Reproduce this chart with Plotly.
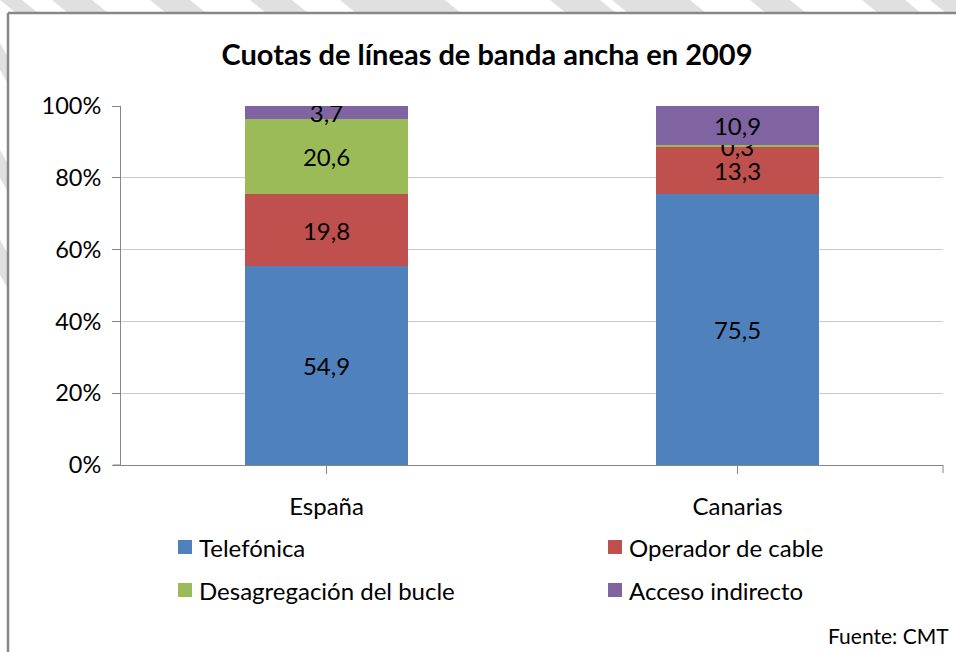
import plotly.graph_objects as go

categories = ["España", "Canarias"]
series_names = ["Telefónica", "Operador de cable", "Desagregación del bucle", "Acceso indirecto"]
telefonica = [54.9, 75.5]
operador_cable = [19.8, 13.3]
desagregacion = [20.6, 0.3]
acceso_indirecto = [3.7, 10.9]
series_values = [telefonica, operador_cable, desagregacion, acceso_indirecto]
colors = ["#4F81BD", "#C0504D", "#9BBB59", "#8064A2"]
y_tick_vals = [0, 20, 40, 60, 80, 100]
y_tick_text = ["0%", "20%", "40%", "60%", "80%", "100%"]

W, H = 956, 652
ML, MR, MT, MB = 121, 13, 106, 187
PW, PH = W - ML - MR, H - MT - MB


def px(x):
    return (x - ML) / PW


def py(y):
    return (H - MB - y) / PH


FONT = "Lato"

fig = go.Figure()
for name, vals, col in zip(series_names, series_values, colors):
    fig.add_trace(go.Bar(
        x=categories, y=vals, name=name,
        marker=dict(color=col, line=dict(width=0)),
        text=[f"{v:.1f}".replace(".", ",") for v in vals],
        textposition="inside", insidetextanchor="middle",
        constraintext="none", textangle=0,
        textfont=dict(family=FONT, size=24, color="#000000"),
        showlegend=False, hoverinfo="skip",
    ))

shapes = []
# decorative diagonal stripes outside the frame
top_stripes = [(0, 22), (52, 92), (150, 190), (250, 292), (340, 445), (550, 600), (612, 690),
               (750, 790), (862, 905), (930, 970)]
for x0, x1 in top_stripes:
    path = (f"M {px(x0)} {py(0)} L {px(x1)} {py(0)} L {px(x1 + 16)} {py(13)} "
            f"L {px(x0 + 16)} {py(13)} Z")
    shapes.append(dict(type="path", path=path, xref="paper", yref="paper",
                       fillcolor="#E0E0E0", line=dict(width=0), layer="below"))
left_stripes = [(43, 70), (150, 178), (240, 275)]
for y0, y1 in left_stripes:
    path = (f"M {px(0)} {py(y0)} L {px(0)} {py(y1)} L {px(8)} {py(y1 + 14)} "
            f"L {px(8)} {py(y0 + 14)} Z")
    shapes.append(dict(type="path", path=path, xref="paper", yref="paper",
                       fillcolor="#E0E0E0", line=dict(width=0), layer="below"))
# frame
shapes.append(dict(type="line", xref="paper", yref="paper", x0=px(8), x1=px(960),
                   y0=py(13), y1=py(13), line=dict(color="#878787", width=2.5)))
shapes.append(dict(type="line", xref="paper", yref="paper", x0=px(8), x1=px(8),
                   y0=py(13), y1=py(660), line=dict(color="#878787", width=2.5)))
# x axis extension to the left and right end tick
shapes.append(dict(type="line", xref="paper", yref="paper", x0=px(113), x1=0,
                   y0=0, y1=0, line=dict(color="#868686", width=1)))
shapes.append(dict(type="line", xref="paper", yref="paper", x0=1, x1=1,
                   y0=0, y1=py(473), line=dict(color="#868686", width=1)))

# legend (manual)
legend_pos = [(178, 547), (608, 547), (178, 590), (608, 590)]
annotations = []
for (lx, ly), name, col in zip(legend_pos, series_names, colors):
    shapes.append(dict(type="rect", xref="paper", yref="paper",
                       x0=px(lx), x1=px(lx + 14), y0=py(ly - 7), y1=py(ly + 7),
                       fillcolor=col, line=dict(width=0)))
    annotations.append(dict(text=name, xref="paper", yref="paper", x=px(lx + 19), y=py(ly),
                            xanchor="left", yanchor="middle", showarrow=False,
                            font=dict(family=FONT, size=24, color="#000000")))

annotations.append(dict(text="Fuente: CMT", xref="paper", yref="paper", x=px(951), y=py(635),
                        xanchor="right", yanchor="middle", showarrow=False,
                        font=dict(family=FONT, size=21, color="#000000")))

fig.update_layout(
    width=W, height=H,
    margin=dict(l=ML, r=MR, t=MT, b=MB),
    paper_bgcolor="white", plot_bgcolor="white",
    barmode="stack", barnorm="percent", bargap=0.603,
    title=dict(text="<b>Cuotas de líneas de banda ancha en 2009</b>", xref="container",
               x=487 / W, xanchor="center", yref="container",
               y=1 - 55 / H, yanchor="middle",
               font=dict(family=FONT, size=29, color="#000000")),
    xaxis=dict(showline=True, linecolor="#868686", linewidth=1, ticks="outside", ticklen=8,
               tickcolor="#868686", tickfont=dict(family=FONT, size=24, color="#000000"),
               showgrid=False, zeroline=False, fixedrange=True, ticklabelstandoff=12),
    yaxis=dict(range=[0, 100], tickvals=y_tick_vals, ticktext=y_tick_text,
               showline=True, linecolor="#868686", linewidth=1, ticks="outside", ticklen=8,
               tickcolor="#868686", showgrid=True, gridcolor="#C8C8C8", gridwidth=1,
               zeroline=False, tickfont=dict(family=FONT, size=23.5, color="#000000"),
               ticklabelstandoff=6, fixedrange=True),
    shapes=shapes, annotations=annotations,
    font=dict(family=FONT),
)

fig.write_html("out.html", config={"displayModeBar": False},
               post_script="document.body.style.margin='0px';document.body.style.overflow='hidden';")
